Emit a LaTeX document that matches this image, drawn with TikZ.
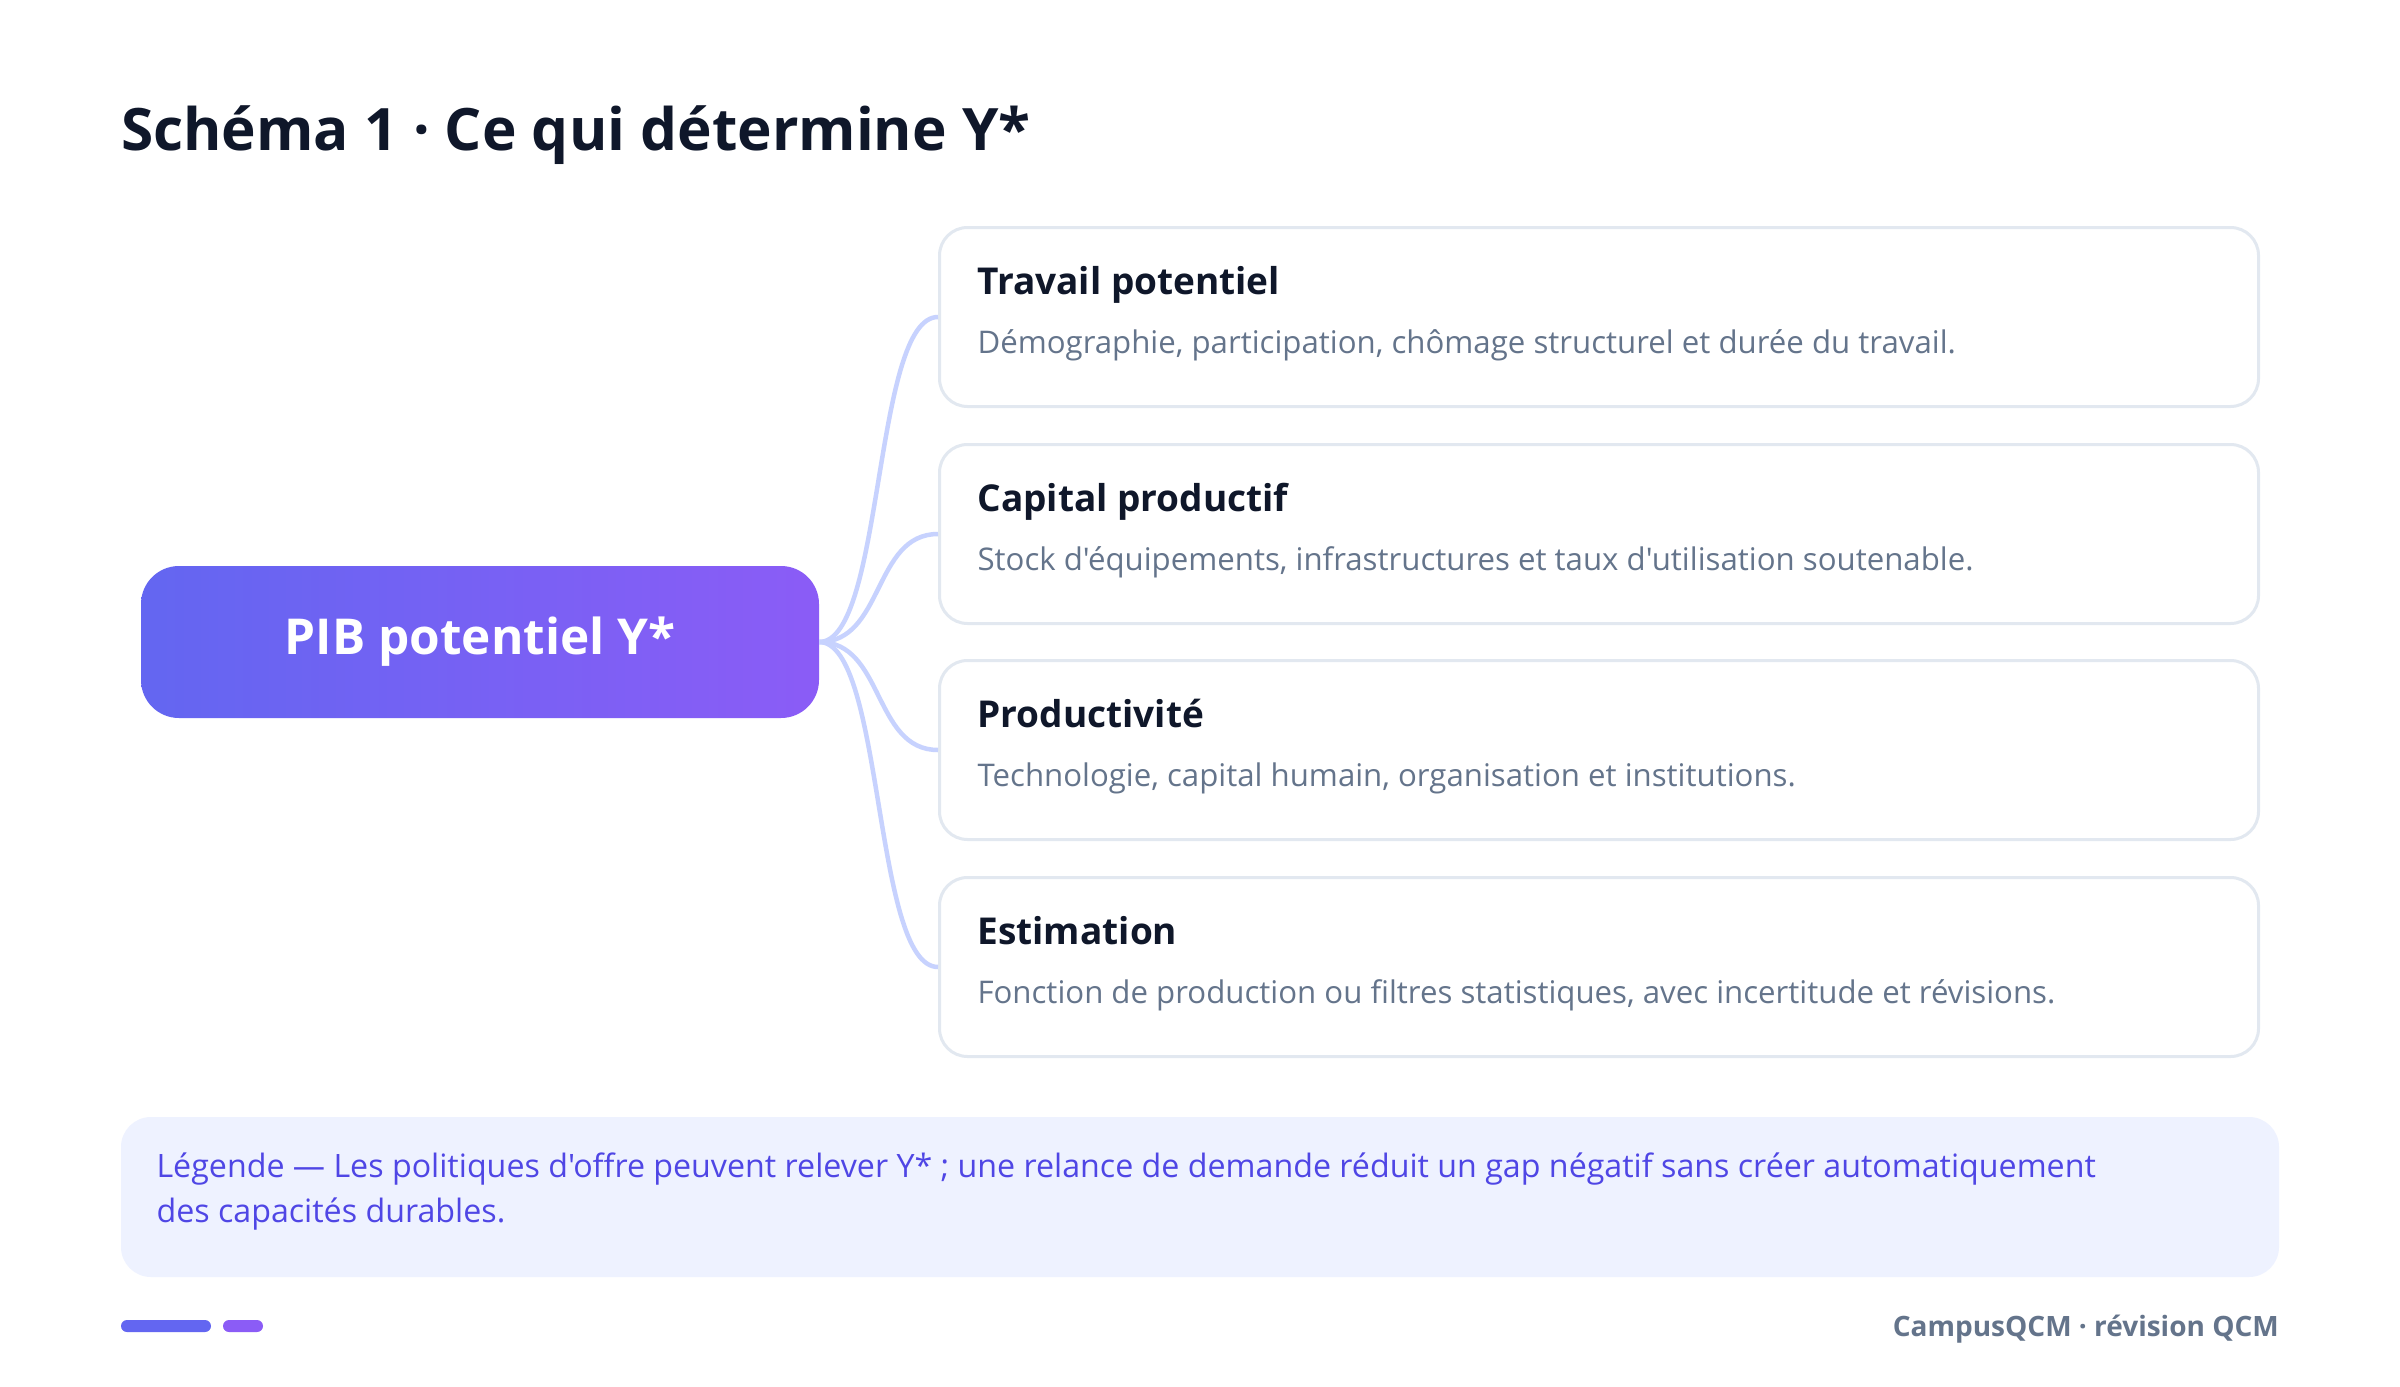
\documentclass[tikz,border=0pt]{standalone}
\usepackage{fontspec}
\setmainfont{Open Sans}[Ligatures=TeXOff]
\usetikzlibrary{positioning}
\definecolor{ink}{HTML}{0F172A}
\definecolor{slate}{HTML}{64748B}
\definecolor{hubindigo}{HTML}{6366F1}
\definecolor{hubviolet}{HTML}{8B5CF6}
\definecolor{linkblue}{HTML}{C7D2FE}
\definecolor{cardline}{HTML}{E2E8F0}
\definecolor{legendfill}{HTML}{EEF2FF}
\definecolor{legendtext}{HTML}{4F46E5}
\begin{document}
\begin{tikzpicture}[x=1pt, y=-1pt,
    hub/.style={rounded corners=38pt, minimum width=678pt, minimum height=152pt,
        left color=hubindigo, right color=hubviolet, text=white,
        font=\fontsize{49.5}{56}\selectfont\bfseries},
    card/.style={draw=cardline, line width=3pt, fill=white, rounded corners=28pt,
        minimum width=1319pt, minimum height=179pt},
    cardtitle/.style={anchor=base west, text=ink, font=\fontsize{37}{42}\selectfont\bfseries},
    carddesc/.style={anchor=base west, text=slate, font=\fontsize{31.2}{36}\selectfont},
    link/.style={linkblue, line width=4.5pt},
    legendline/.style={anchor=base west, text=legendtext, font=\fontsize{32.2}{38}\selectfont}]
    % page
    \useasboundingbox (0,0) rectangle (2400,1386);
    \fill[white] (0,0) rectangle (2400,1386);
    % title
    \node[anchor=base west, inner sep=0pt, text=ink, font=\fontsize{58.5}{66}\selectfont\bfseries]
        (title) at (121,150) {Schéma 1 · Ce qui détermine Y*};
    % hub
    \node[hub] (pib) at (480,642) {PIB potentiel Y*};
    % cards
    \node[card] (travail) at (1599,317) {};
    \node[card] (capital) at (1599,534) {};
    \node[card] (productivite) at (1599,750) {};
    \node[card] (estimation) at (1599,967) {};
    \node[cardtitle] (travailT) at ([xshift=36pt, yshift=-68pt]travail.north west) {Travail potentiel};
    \node[carddesc] (travailD) at ([xshift=36pt, yshift=-127pt]travail.north west)
        {Démographie, participation, chômage structurel et durée du travail.};
    \node[cardtitle] (capitalT) at ([xshift=36pt, yshift=-68pt]capital.north west) {Capital productif};
    \node[carddesc] (capitalD) at ([xshift=36pt, yshift=-127pt]capital.north west)
        {Stock d'équipements, infrastructures et taux d'utilisation soutenable.};
    \node[cardtitle] (productiviteT) at ([xshift=36pt, yshift=-68pt]productivite.north west) {Productivité};
    \node[carddesc] (productiviteD) at ([xshift=36pt, yshift=-127pt]productivite.north west)
        {Technologie, capital humain, organisation et institutions.};
    \node[cardtitle] (estimationT) at ([xshift=36pt, yshift=-68pt]estimation.north west) {Estimation};
    \node[carddesc] (estimationD) at ([xshift=36pt, yshift=-127pt]estimation.north west)
        {Fonction de production ou filtres statistiques, avec incertitude et révisions.};
    % links
    \draw[link] (pib.east) .. controls +(65,0) and +(-65,0) .. (travail.west);
    \draw[link] (pib.east) .. controls +(65,0) and +(-65,0) .. (capital.west);
    \draw[link] (pib.east) .. controls +(65,0) and +(-65,0) .. (productivite.west);
    \draw[link] (pib.east) .. controls +(65,0) and +(-65,0) .. (estimation.west);
    % legend
    \node[fill=legendfill, rounded corners=30pt, minimum width=2158pt, minimum height=160pt]
        (legend) at (1200,1197) {};
    \node[legendline] (legendA) at (153,1177)
        {Légende — Les politiques d'offre peuvent relever Y* ; une relance de demande réduit un gap négatif sans créer automatiquement};
    \node[legendline] (legendB) at (153,1222) {des capacités durables.};
    % footer
    \fill[hubindigo, rounded corners=6pt] (121,1320) rectangle (211,1332);
    \fill[hubviolet, rounded corners=6pt] (223,1320) rectangle (263,1332);
    \node[anchor=base east, inner sep=0pt, text=slate, font=\fontsize{28}{34}\selectfont\bfseries]
        (footer) at (2279,1336) {CampusQCM · révision QCM};
\end{tikzpicture}
\end{document}
